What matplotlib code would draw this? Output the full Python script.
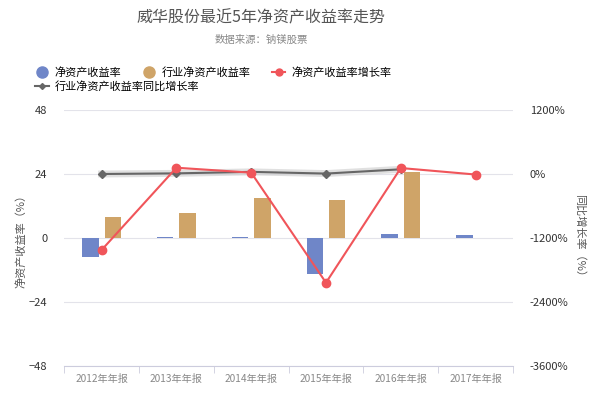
import matplotlib
matplotlib.use('Agg')
import matplotlib.pyplot as plt
import numpy as np
from matplotlib.lines import Line2D

plt.rcParams['font.family'] = ['Noto Sans CJK SC', 'DejaVu Sans']

years = ['2012年年报', '2013年年报', '2014年年报', '2015年年报', '2016年年报', '2017年年报']
roe = [-7.0, 0.3, 0.3, -13.6, 1.5, 1.1]
industry_roe = [7.9, 9.4, 15.0, 14.2, 24.9, np.nan]
roe_growth = [-1425, 118, 25, -2038, 112, -10]
industry_growth = [0, 12, 40, 8, 88, np.nan]

blue = '#6f86c8'
gold = '#cfa468'
red = '#f0555a'
gray = '#666666'

fig = plt.figure(figsize=(6, 4), dpi=100)
ax = fig.add_axes([0.107, 0.085, 0.748, 0.64])
ax2 = ax.twinx()

x = np.arange(len(years))
w = 0.22
ax.bar(x - 0.15, roe, w, color=blue, zorder=2)
ax.bar(x + 0.15, industry_roe, w, color=gold, zorder=2)
ax.set_ylim(-48, 48)
ax.set_yticks([-48, -24, 0, 24, 48])
ax.set_xlim(-0.5, len(years) - 0.5)
ax.set_xticks(x)
ax.set_xticklabels(years, color='#888888', fontsize=7.3)
ax.set_xticks(np.arange(-0.5, len(years)), minor=True)
ax.tick_params(axis='x', which='major', length=0, pad=6)
ax.tick_params(axis='x', which='minor', length=5, color='#ccccdd')
ax.tick_params(axis='y', length=0, labelsize=8, labelcolor='#333333', pad=12)
ax.grid(axis='y', color='#e3e3ea', linewidth=0.8, zorder=0)
for s in ['top', 'right', 'left']:
    ax.spines[s].set_visible(False)
ax.spines['bottom'].set_color('#ccccdd')
ax.set_ylabel('净资产收益率（%）', color='#555555', fontsize=8, labelpad=2)

# industry growth line with soft shadow
ax2.plot(x, industry_growth, color='#cccccc', linewidth=5, alpha=0.6, zorder=3)
ax2.plot(x, industry_growth, color=gray, linewidth=1.5, marker='D', markersize=4, zorder=4)
ax2.plot(x, roe_growth, color=red, linewidth=1.5, marker='o', markersize=6, zorder=5)
ax2.set_ylim(-3600, 1200)
ax2.set_yticks([-3600, -2400, -1200, 0, 1200])
ax2.set_yticklabels([f'{v}%' for v in [-3600, -2400, -1200, 0, 1200]])
ax2.tick_params(axis='y', length=0, labelsize=8, labelcolor='#333333', pad=12)
for s in ax2.spines.values():
    s.set_visible(False)
ax2.set_ylabel('同比增长率（%）', color='#555555', fontsize=8, rotation=270, labelpad=12)

fig.text(0.435, 0.955, '威华股份最近5年净资产收益率走势', ha='center', va='center',
         fontsize=11.5, color='#555555')
fig.text(0.435, 0.9, '数据来源：钠镁股票', ha='center', va='center',
         fontsize=7.5, color='#888888')

handles = [
    Line2D([], [], linestyle='none', marker='o', markersize=8, color=blue),
    Line2D([], [], linestyle='none', marker='o', markersize=8, color=gold),
    Line2D([], [], color=red, marker='o', markersize=5, linewidth=1.5),
    Line2D([], [], color=gray, marker='D', markersize=3, linewidth=1.5),
]
labels = ['净资产收益率', '行业净资产收益率', '净资产收益率增长率', '行业净资产收益率同比增长率']
fig.legend(handles[:3], labels[:3], loc='center left', bbox_to_anchor=(0.042, 0.82),
           ncol=3, frameon=False, fontsize=8, handlelength=1.2, columnspacing=1.9,
           handletextpad=0.55)
fig.legend(handles[3:], labels[3:], loc='center left', bbox_to_anchor=(0.042, 0.783),
           frameon=False, fontsize=8, handlelength=1.2, handletextpad=0.55)

fig.savefig('out.png', dpi=100)
